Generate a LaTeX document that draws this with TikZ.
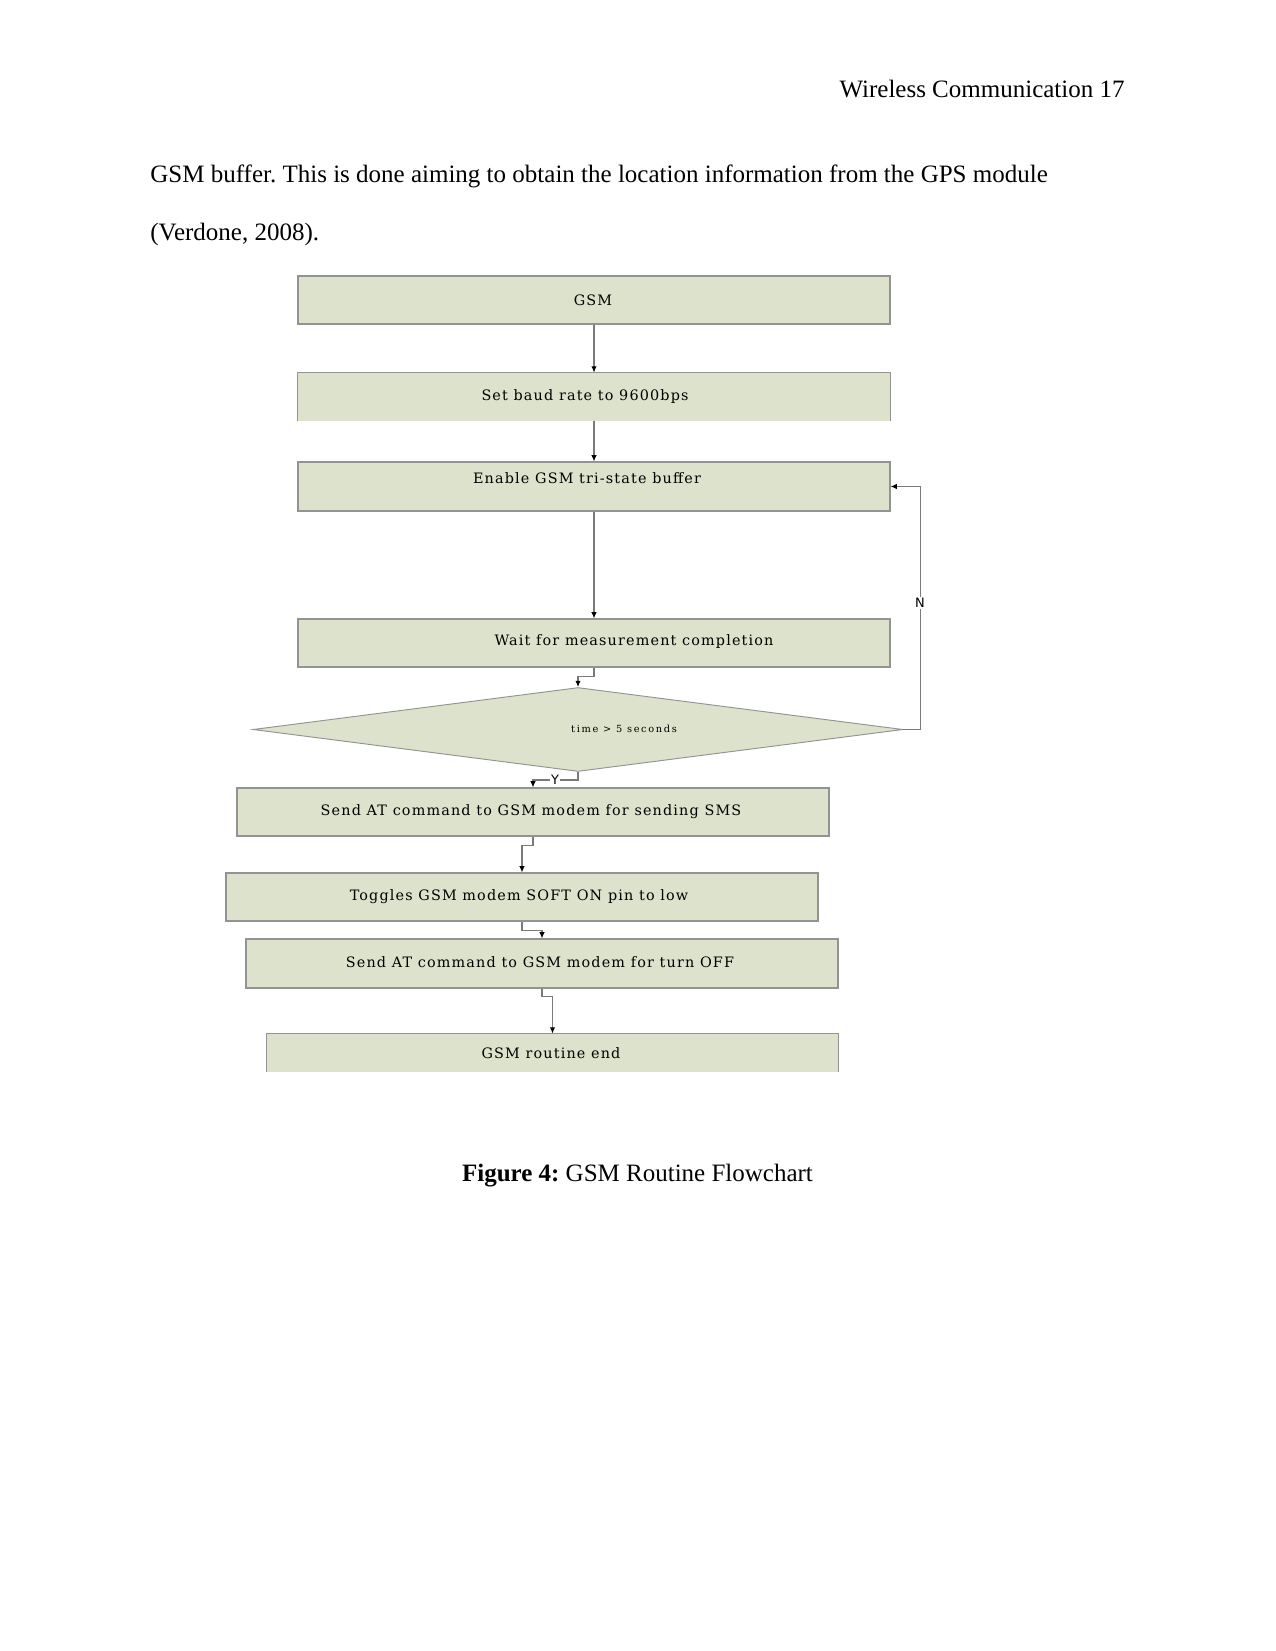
\documentclass[tikz,border=0pt]{standalone}
\usepackage{fontspec}
\setmainfont{Liberation Serif}
\newfontfamily\boxfont[LetterSpace=8]{DejaVu Serif}
\newfontfamily\decfont[LetterSpace=17]{DejaVu Serif}
\newfontfamily\labfont{DejaVu Sans}
\frenchspacing
\usetikzlibrary{shapes.geometric,arrows.meta}
\definecolor{boxfill}{HTML}{DDE2CC}
\definecolor{boxline}{HTML}{939393}
\definecolor{conncol}{HTML}{7A7A7A}
\tikzset{
  boxbg/.style={rectangle, fill=boxfill, inner sep=0pt, minimum height=#1},
  boxbg/.default={23.04pt},
  boxdraw/.style={draw=boxline, line width=0.5pt},
  boxtxt/.style={inner sep=0pt, font=\fontsize{6.9}{7.5}\boxfont},
  dectxt/.style={inner sep=0pt, font=\fontsize{4.7}{5}\decfont},
  conn/.style={draw=conncol, line width=0.55pt, -{Latex[length=3pt,width=2.6pt,color=black]}},
  lab/.style={inner sep=0.6pt, fill=white, font=\fontsize{6.2}{7}\labfont},
  bodytxt/.style={inner sep=0pt, font=\fontsize{12}{14}\selectfont}
}
\begin{document}
\begin{tikzpicture}[x=0.48pt,y=-0.48pt]
\useasboundingbox (0,0) rectangle (1275,1651);
% page text
\node[bodytxt, anchor=base east] (hdr) at (1125,98) {Wireless Communication 17};
\node[bodytxt, anchor=base west] (p1) at (150,183) {GSM buffer. This is done aiming to obtain the location information from the GPS module};
\node[bodytxt, anchor=base west] (p2) at (150,241) {(Verdone, 2008).};
\node[bodytxt, anchor=base] (cap) at (637.5,1181) {\textbf{Figure 4:} GSM Routine Flowchart};
% boxes
\node[boxbg, boxdraw, minimum width=284.16pt] (b1) at (594,300) {};
\node[boxbg, minimum width=284.16pt] (b2) at (594,397) {};
\draw[boxdraw] (b2.south west) -- (b2.north west) -- (b2.north east) -- (b2.south east);
\node[boxbg={23.52pt}, boxdraw, minimum width=284.16pt] (b3) at (594,486.5) {};
\node[boxbg, boxdraw, minimum width=284.16pt] (b4) at (594,643) {};
\node[shape=diamond, fill=boxfill, draw=boxline, line width=0.45pt, inner sep=0pt,
      minimum width=312pt, minimum height=40.3pt] (d) at (578,729.5) {};
\node[boxbg, boxdraw, minimum width=284.16pt] (b5) at (533,812) {};
\node[boxbg, boxdraw, minimum width=284.16pt] (b6) at (522,897) {};
\node[boxbg={23.52pt}, boxdraw, minimum width=284.16pt] (b7) at (542,963.5) {};
\node[boxbg={18.24pt}, minimum width=274.08pt] (b8) at (552.5,1053) {};
\draw[boxdraw] (b8.south west) -- (b8.north west) -- (b8.north east) -- (b8.south east);
% texts
\node[boxtxt] (t1) at (593,300) {GSM};
\node[boxtxt] (t2) at (585,397) {Set baud rate to 9600bps};
\node[boxtxt] (t3) at (587,478) {Enable GSM tri-state buffer};
\node[boxtxt] (t4) at (634,642) {Wait for measurement completion};
\node[dectxt] (td) at (624,729) {time > 5 seconds};
\node[boxtxt] (t5) at (531,812) {Send AT command to GSM modem for sending SMS};
\node[boxtxt] (t6) at (519,897) {Toggles GSM modem SOFT ON pin to low};
\node[boxtxt] (t7) at (540,962) {Send AT command to GSM modem for turn OFF};
\node[boxtxt] (t8) at (551,1053) {GSM routine end};
% connectors
\draw[conn] (b1.south) -- (b2.north);
\draw[conn] (b2.south) -- (b3.north);
\draw[conn] (b3.south) -- (b4.north);
\draw[conn] (b4.south) -- ++(0,9) -| (d.north);
\draw[conn] (d.south) -- ++(0,8) -| (b5.north);
\draw[conn] (b5.south) -- ++(0,9) -| (b6.north);
\draw[conn] (b6.south) -- ++(0,9) -| (b7.north);
\draw[conn] (b7.south) -- ++(0,8) -| (b8.north);
\draw[conn] (d.east) -- ++(17,0) |- (b3.east);
\node[lab] (nl) at (920,603) {N};
\node[lab] (yl) at (555,780) {Y};
\end{tikzpicture}
\end{document}
